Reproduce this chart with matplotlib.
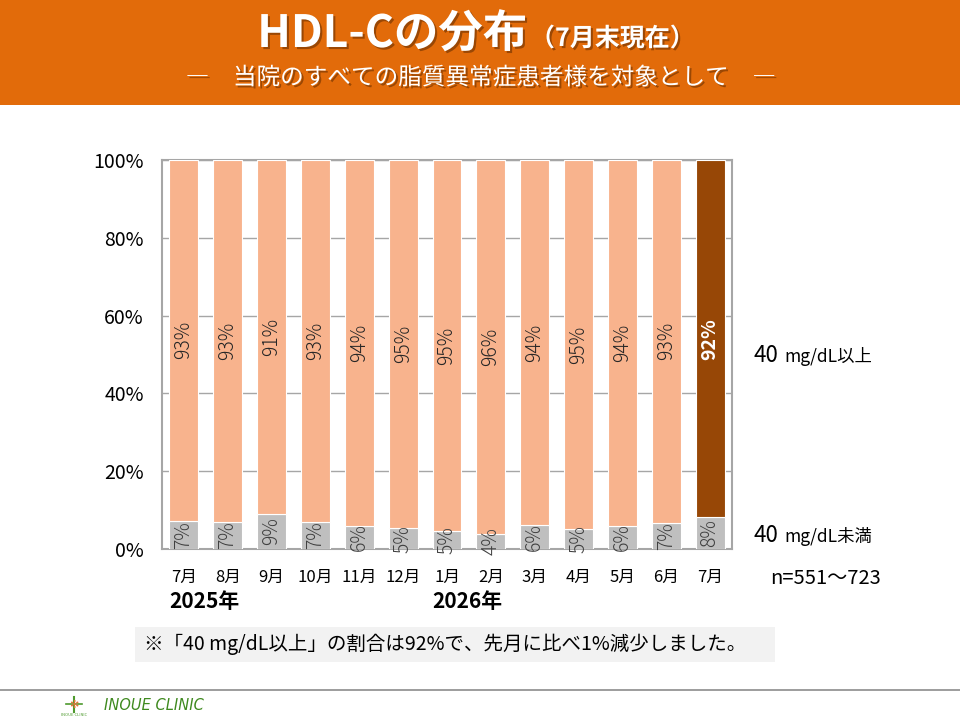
import matplotlib
matplotlib.use('Agg')
import matplotlib.pyplot as plt
import matplotlib.patheffects as pe
import matplotlib.transforms as mtransforms
from matplotlib.patches import Rectangle
import numpy as np

plt.rcParams['font.family'] = ['Noto Sans CJK JP', 'DejaVu Sans']

months = ['7月', '8月', '9月', '10月', '11月', '12月', '1月', '2月', '3月', '4月', '5月', '6月', '7月']
below40 = [7.3, 6.9, 9.0, 6.9, 6.0, 5.3, 4.6, 3.9, 6.2, 5.1, 5.9, 6.8, 8.1]
above40 = [92.7, 93.1, 91.0, 93.1, 94.0, 94.7, 95.4, 96.1, 93.8, 94.9, 94.1, 93.2, 91.9]
years = [(0, '2025年'), (6, '2026年')]
yticks = [0, 20, 40, 60, 80, 100]

PEACH = '#F8B38D'
BROWN = '#974706'
GRAY = '#BFBFBF'
ORANGE = '#E26B0A'

W, H = 960, 720
fig = plt.figure(figsize=(9.6, 7.2), dpi=100)
fig.patch.set_facecolor('white')


def fx(px):
    return px / W


def fy(py):
    return 1 - py / H


# header band
fig.patches.append(Rectangle((0, fy(105)), 1, 105 / H, transform=fig.transFigure,
                             facecolor=ORANGE, edgecolor='none', zorder=0))
shadow = [pe.SimplePatchShadow(offset=(1.5, -1.5), shadow_rgbFace='#6b3000', alpha=0.6), pe.Normal()]
fig.text(fx(527), fy(47), 'HDL-Cの分布', color='white', fontsize=32, fontweight='bold',
         ha='right', va='baseline', path_effects=shadow)
fig.text(fx(530), fy(46), '（7月末現在）', color='white', fontsize=18, fontweight='bold',
         ha='left', va='baseline', path_effects=shadow)
fig.text(fx(481), fy(78), '―　当院のすべての脂質異常症患者様を対象として　―', color='white',
         fontsize=17, ha='center', va='center', path_effects=shadow)

# chart
ax = fig.add_axes([fx(162), fy(549), fx(732) - fx(162), fy(160) - fy(549)])
x = np.arange(len(months))
width = 0.66
top_colors = [PEACH] * (len(months) - 1) + [BROWN]
ax.bar(x, below40, width, color=GRAY, edgecolor='white', linewidth=0.8, zorder=3)
ax.bar(x, above40, width, bottom=below40, color=top_colors, edgecolor='white', linewidth=0.8, zorder=3)

for i in range(len(months)):
    last = i == len(months) - 1
    ax.text(x[i], below40[i] + above40[i] / 2, f'{round(above40[i])}%', rotation=90,
            ha='center', va='center', fontsize=14,
            color='white' if last else '#262626', fontweight='bold' if last else 'light',
            zorder=4)
    ax.text(x[i], below40[i] / 2, f'{round(below40[i])}%', rotation=90,
            ha='center', va='center', fontsize=14, color='#404040', fontweight='light', zorder=4)

ax.set_xlim(-0.5, len(months) - 0.5)
ax.set_ylim(0, 100)
ax.set_yticks(yticks)
ax.set_yticklabels([f'{v}%' for v in yticks], fontsize=14)
ax.set_xticks(x)
ax.set_xticklabels(months, fontsize=12)
ax.tick_params(axis='y', length=0, pad=13)
ax.tick_params(axis='x', length=0, pad=14)
ax.grid(axis='y', color='#A6A6A6', linewidth=1, zorder=0)
for s in ax.spines.values():
    s.set_color('#A6A6A6')
    s.set_linewidth(1.5)

trans = mtransforms.blended_transform_factory(ax.transData, fig.transFigure)
for i, label in years:
    ax.text(x[i] - width / 2, fy(602), label, transform=trans, fontsize=15,
            fontweight='bold', ha='left', va='center')

# right side labels
fig.text(fx(753), fy(355), '40', fontsize=16, ha='left', va='center')
fig.text(fx(784), fy(356), 'mg/dL以上', fontsize=12.5, ha='left', va='center')
fig.text(fx(753), fy(536), '40', fontsize=16, ha='left', va='center')
fig.text(fx(784), fy(537), 'mg/dL未満', fontsize=12.5, ha='left', va='center')
fig.text(fx(770), fy(578), 'n=551～723', fontsize=14.5, ha='left', va='center')

# note box
fig.patches.append(Rectangle((fx(135), fy(662)), fx(775) - fx(135), 35 / H, transform=fig.transFigure,
                             facecolor='#F2F2F2', edgecolor='none', zorder=0))
fig.text(fx(144), fy(644), '※「40 mg/dL以上」の割合は92%で、先月に比べ1%減少しました。',
         fontsize=14, ha='left', va='center')

# footer
fig.add_artist(plt.Line2D([0, 1], [fy(690), fy(690)], transform=fig.transFigure,
                          color='#8C8C8C', linewidth=1.2))
fig.add_artist(plt.Line2D([fx(74), fx(74)], [fy(712), fy(697)], transform=fig.transFigure,
                          color='#4E9A2E', linewidth=1.5))
fig.add_artist(plt.Line2D([fx(66), fx(82)], [fy(704), fy(704)], transform=fig.transFigure,
                          color='#4E9A2E', linewidth=1.2))
fig.text(fx(74), fy(705), '✻', color='#E8743B', fontsize=8, ha='center', va='center',
         family=['DejaVu Sans'])
fig.text(fx(74), fy(715), 'INOUE CLINIC', color='#4E9A2E', fontsize=3, ha='center', va='center')
fig.text(fx(104), fy(706), 'INOUE CLINIC', color='#3F8A1F', fontsize=10.5, style='italic',
         ha='left', va='center', family=['DejaVu Sans'])

fig.savefig('out.png', dpi=100)
